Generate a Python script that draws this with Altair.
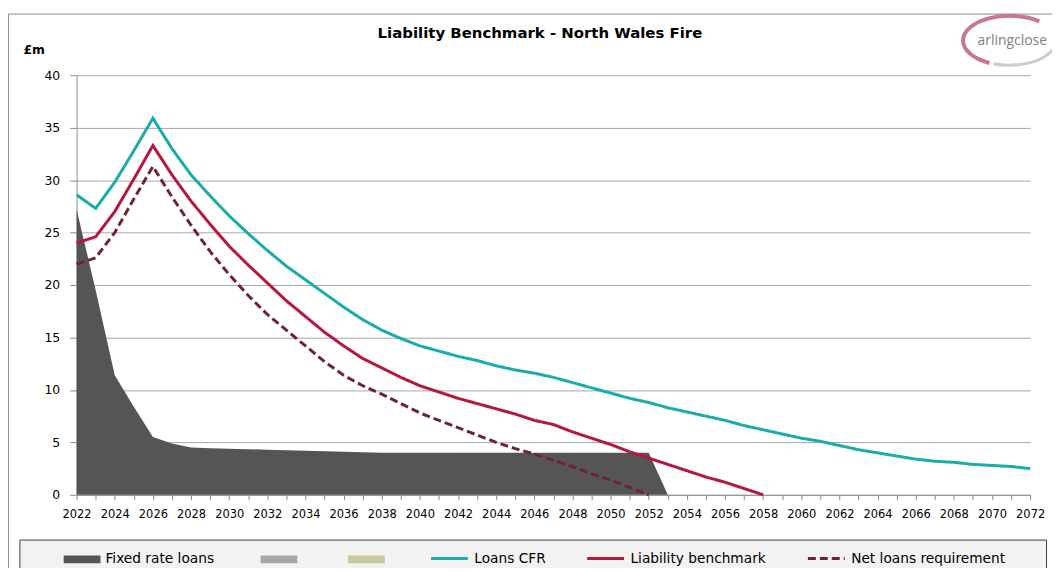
import altair as alt
import pandas as pd

FONT = "DejaVu Sans"

# ---------------- data ----------------
years = list(range(2022, 2073))

fixed_years = list(range(2022, 2054))
fixed_rate_loans = [27.2, 19.5, 11.4, 8.4, 5.5, 4.9, 4.5, 4.45, 4.4, 4.35,
                    4.3, 4.25, 4.2, 4.15, 4.1, 4.05, 4.0, 4.0, 4.0, 4.0,
                    4.0, 4.0, 4.0, 4.0, 4.0, 4.0, 4.0, 4.0, 4.0, 4.0,
                    4.0, 0.0]

loans_cfr = [28.6, 27.3, 29.8, 32.8, 35.9, 33.0, 30.5, 28.5, 26.6, 24.9,
             23.3, 21.8, 20.5, 19.2, 17.9, 16.7, 15.7, 14.9, 14.2, 13.7,
             13.2, 12.8, 12.3, 11.9, 11.6, 11.2, 10.7, 10.2, 9.7, 9.2,
             8.8, 8.3, 7.9, 7.5, 7.1, 6.6, 6.2, 5.8, 5.4, 5.1,
             4.7, 4.3, 4.0, 3.7, 3.4, 3.2, 3.1, 2.9, 2.8, 2.7, 2.5]

lb_years = list(range(2022, 2059))
liability_benchmark = [24.0, 24.6, 27.0, 30.1, 33.3, 30.5, 28.0, 25.8, 23.7, 21.9,
                       20.2, 18.5, 17.0, 15.5, 14.2, 13.0, 12.1, 11.2, 10.4, 9.8,
                       9.2, 8.7, 8.2, 7.7, 7.1, 6.7, 6.0, 5.4, 4.8, 4.1,
                       3.5, 2.9, 2.3, 1.7, 1.2, 0.6, 0.0]

nlr_years = list(range(2022, 2053))
net_loans_requirement = [22.0, 22.6, 25.0, 28.2, 31.3, 28.4, 25.7, 23.2, 21.0, 19.0,
                         17.2, 15.7, 14.2, 12.7, 11.4, 10.4, 9.6, 8.7, 7.8, 7.1,
                         6.4, 5.7, 5.0, 4.4, 3.9, 3.3, 2.7, 2.0, 1.4, 0.7, 0.0]

fill_series = ["Fixed rate loans", " ", "  "]
fill_colors = ["#555555", "#a6a6a6", "#c9c99b"]
line_series = ["Loans CFR", "Liability benchmark", "Net loans requirement"]
line_colors = ["#1aabab", "#b5173f", "#6e2432"]
line_dashes = [[1, 0], [1, 0], [8, 4]]

y_ticks = [0, 5, 10, 15, 20, 25, 30, 35, 40]
title_text = "Liability Benchmark - North Wales Fire"
unit_text = "£m"
logo_text = "arlingclose"

# ---------------- tables ----------------
df_area = pd.DataFrame({"year": fixed_years, "value": fixed_rate_loans,
                        "series": fill_series[0]})
df_lines = pd.concat([
    pd.DataFrame({"year": years, "value": loans_cfr, "series": line_series[0]}),
    pd.DataFrame({"year": lb_years, "value": liability_benchmark, "series": line_series[1]}),
    pd.DataFrame({"year": nlr_years, "value": net_loans_requirement, "series": line_series[2]}),
], ignore_index=True)
one = pd.DataFrame({"k": [0]})

# ---------------- scales / axes ----------------
x_enc = alt.X(
    "year:Q",
    scale=alt.Scale(domain=[2022, 2072], nice=False, zero=False),
    axis=alt.Axis(
        values=years, format="d",
        labelExpr="datum.value % 2 === 0 ? datum.label : ''",
        grid=False, domainColor="#8c8c8c", tickColor="#8c8c8c",
        tickSize=5, labelPadding=9, labelFont=FONT, labelFontSize=11.5,
        labelColor="#000000", labelOverlap=False, labelFlush=False,
        title=None,
    ),
)
y_enc = alt.Y(
    "value:Q",
    scale=alt.Scale(domain=[0, 40], nice=False),
    axis=alt.Axis(
        values=y_ticks, grid=True, gridColor="#a6a6a6", domainColor="#8c8c8c",
        tickColor="#8c8c8c", tickSize=7, labelPadding=10, labelFont=FONT,
        labelFontSize=12.5, labelColor="#000000",
        title=unit_text, titleAngle=0, titleX=-54, titleY=-26,
        titleAlign="left", titleBaseline="middle", titleFont=FONT,
        titleFontSize=12.4, titleFontWeight="bold", titleColor="#000000",
    ),
)

common_legend = dict(
    title=None, orient="none", direction="horizontal", padding=0,
    symbolSize=1369, labelOffset=5,
    labelFont=FONT, labelFontSize=13.8, labelColor="#000000",
    labelLimit=400,
)

fill_legend = alt.Legend(
    **common_legend, legendX=-13, legendY=468, columns=3, columnPadding=46,
    symbolType="M-1,-0.21H1V0.21H-1Z", labelExpr="trim(datum.label)",
    symbolStrokeWidth=0,
)
stroke_legend = alt.Legend(
    **common_legend, legendX=355, legendY=466, columns=3, columnPadding=35,
    symbolType="stroke", symbolStrokeWidth=3,
)

# ---------------- decorations ----------------
frame = alt.Chart(one).mark_rect(fillOpacity=0, stroke="#8c8c8c", strokeWidth=1).encode(
    x=alt.value(-68.5), x2=alt.value(1100), y=alt.value(-61.5), y2=alt.value(600)
)
legend_box = alt.Chart(one).mark_rect(fill="#f2f2f2", stroke="#404040", strokeWidth=1).encode(
    x=alt.value(-57), x2=alt.value(975.5), y=alt.value(467.5), y2=alt.value(600)
)
title = alt.Chart(one).mark_text(
    text=title_text, font=FONT, fontSize=15, fontWeight="bold", color="#000000",
    align="center", baseline="alphabetic",
).encode(x=alt.value(466), y=alt.value(-37))
logo_pink = alt.Chart(one).mark_point(
    shape="M30.2,-19.2A47,25 0 1,0 -19.9,22.7", size=4, filled=False,
    stroke="#c9778e", strokeWidth=4, opacity=1,
).encode(x=alt.value(938), y=alt.value(-35))
logo_grey = alt.Chart(one).mark_point(
    shape="M-16,23.5A47,25 0 0,0 44.2,-8.6", size=4, filled=False,
    stroke="#cccccc", strokeWidth=3, opacity=1,
).encode(x=alt.value(938), y=alt.value(-35))
logo = alt.Chart(one).mark_text(
    text=logo_text, font="Open Sans", fontSize=14, color="#808080",
    align="center", baseline="middle",
).encode(x=alt.value(941), y=alt.value(-34))

# ---------------- data layers ----------------
area = alt.Chart(df_area).mark_area(opacity=1).encode(
    x=x_enc, y=y_enc,
    fill=alt.Fill("series:N", scale=alt.Scale(domain=fill_series, range=fill_colors),
                  legend=fill_legend),
)
lines = alt.Chart(df_lines).mark_line(strokeWidth=3).encode(
    x=x_enc, y=y_enc,
    stroke=alt.Stroke("series:N", scale=alt.Scale(domain=line_series, range=line_colors),
                      legend=stroke_legend),
    strokeDash=alt.StrokeDash("series:N", scale=alt.Scale(domain=line_series, range=line_dashes),
                              legend=stroke_legend),
    order="year:Q",
)

chart = alt.layer(
    frame, legend_box, area, lines, title, logo_pink, logo_grey, logo
).properties(
    width=959, height=422,
    padding={"left": 69, "top": 66, "right": 22, "bottom": 72},
    autosize=alt.AutoSizeParams(type="none"),
    background="#ffffff",
).configure_view(strokeWidth=0)

chart.save("out.html", embed_options={"renderer": "svg", "actions": False})
